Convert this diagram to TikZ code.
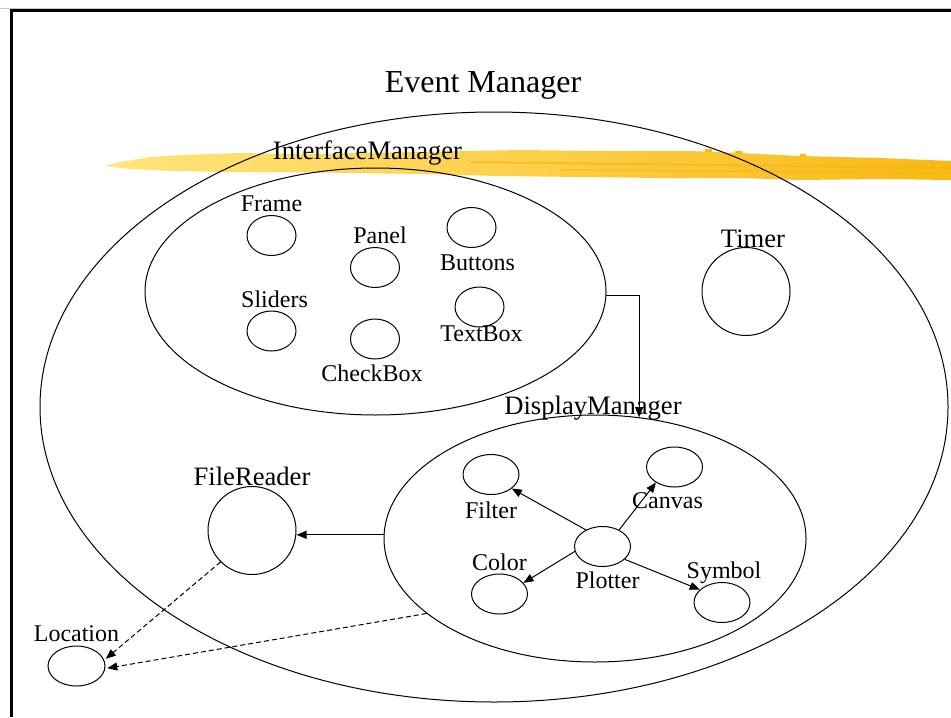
\documentclass[tikz,border=0pt]{standalone}
\usepackage{fontspec}
\setmainfont{Liberation Serif}
\usetikzlibrary{shapes.geometric,arrows.meta}
\definecolor{brushlight}{HTML}{FFE57E}
\definecolor{brushmid}{HTML}{FCD03A}
\definecolor{brushdark}{HTML}{F8BA14}
\newcommand{\smallfont}{\fontsize{12}{14}\selectfont}
\newcommand{\midfont}{\fontsize{13.3}{16}\selectfont}
\newcommand{\bigfont}{\fontsize{16}{19}\selectfont}

\begin{document}
\begin{tikzpicture}[x=0.5pt, y=-0.5pt, line width=0.5pt, >={Triangle[length=5pt,width=4pt]}, label distance=1.5pt,
	every label/.style={inner sep=0pt, font=\smallfont},
	group node/.style={ellipse, draw, inner sep=0pt},
	part node/.style={ellipse, draw, inner sep=0pt, minimum width=24.5pt, minimum height=20pt},
	plot node/.style={part node, minimum width=28pt},
	unit node/.style={circle, draw, inner sep=0pt, minimum size=44pt},
	link/.style={->},
	weak link/.style={->, dashed, dash pattern=on 2.5pt off 1.5pt, shorten >=1pt}]
	\useasboundingbox (0,0) rectangle (951,717);
	% slide frame
	\draw[gray!45] (0,8.5) -- (951,8.5);
	\draw[line width=1.5pt] (11.25,717) -- (11.25,11) -- (951,11);
	% highlighter stroke
	\shade[left color=brushlight, middle color=brushmid, right color=brushdark]
		(105,166) -- (120,162) -- (150,157) -- (180,155) -- (240,153) -- (300,154) -- (360,153) -- (420,152)
		-- (520,150) -- (600,151) -- (690,151) -- (740,153) -- (800,156) -- (880,158) -- (951,161)
		-- (951,180) -- (880,179) -- (800,180) -- (740,178) -- (660,178) -- (580,177) -- (500,176)
		-- (420,174) -- (350,173) -- (280,172) -- (220,172) -- (170,171) -- (130,169) -- cycle;
	\draw[brushdark!80!orange, line width=1pt, opacity=0.5] (470,162) -- (951,168);
	\draw[brushdark!80!orange, line width=1pt, opacity=0.4] (560,170) -- (951,173);
	\fill[brushdark] (705,149) rectangle (712,152) (735,151) rectangle (742,154) (800,154) rectangle (806,157);
	% managers
	\node[group node, minimum width=454pt, minimum height=295pt, label={[font=\bigfont, label distance=6pt, xshift=-5.5pt]above:Event Manager}] (evm) at (494,407) {};
	\node[group node, minimum width=230.5pt, minimum height=123.5pt, label={[font=\midfont, label distance=1pt, xshift=-4pt]above:InterfaceManager}] (ifm) at (375.5,291.5) {};
	\node[group node, minimum width=211pt, minimum height=123.5pt, label={[font=\midfont, label distance=-3pt, xshift=-1pt]above:DisplayManager}] (dsp) at (595,538.5) {};
	% interface parts
	\node[part node, label={above:Frame}] (frame) at (271.5,235.5) {};
	\node[part node, label={[xshift=2.5pt]above:Panel}] (panel) at (375,267.5) {};
	\node[part node, label={[label distance=3pt, xshift=3pt]below:Buttons}] (buttons) at (471.5,227.5) {};
	\node[part node, label={[label distance=1pt, xshift=1.5pt]above:Sliders}] (sliders) at (271.5,331) {};
	\node[part node, label={[label distance=2.5pt, xshift=-1.5pt]below:CheckBox}] (checkbox) at (375,339) {};
	\node[part node, label={[label distance=-1pt, xshift=1pt]below:TextBox}] (textbox) at (479.5,307) {};
	% other units
	\node[unit node, label={[font=\midfont, label distance=-0.5pt, xshift=3.5pt]above:Timer}] (timer) at (746,291.5) {};
	\node[unit node, label={[font=\midfont, label distance=0pt]above:FileReader}] (frd) at (252,530.5) {};
	\node[plot node, minimum width=28.5pt, label={above:Location}] (loc) at (76.5,666) {};
	% display parts
	\node[plot node, label={[label distance=3pt]below:Filter}] (fil) at (491,474.5) {};
	\node[plot node, label={[label distance=2.5pt, xshift=-3.5pt]below:Canvas}] (can) at (674.5,467) {};
	\node[plot node, label={[label distance=2pt, xshift=2.5pt]below:Plotter}] (plt) at (602.5,546.5) {};
	\node[plot node, label={[label distance=1pt]above:Color}] (col) at (499.5,594) {};
	\node[plot node, label={[label distance=-1pt, xshift=1pt]above:Symbol}] (sym) at (722,602.5) {};
	\path[link]
		(plt.135) edge (fil.-34)
		(plt.45) edge (can.220)
		(plt.190) edge (col.25)
		(plt.-30) edge (sym.150);
	\draw[link] (ifm.-1) -| (dsp.70);
	\draw[link] (dsp.179) -- (frd.east |- dsp.179);
	\draw[weak link] (frd.225) -- (loc.12);
	\draw[weak link] (dsp.204) -- (loc.-5);
\end{tikzpicture}
\end{document}
